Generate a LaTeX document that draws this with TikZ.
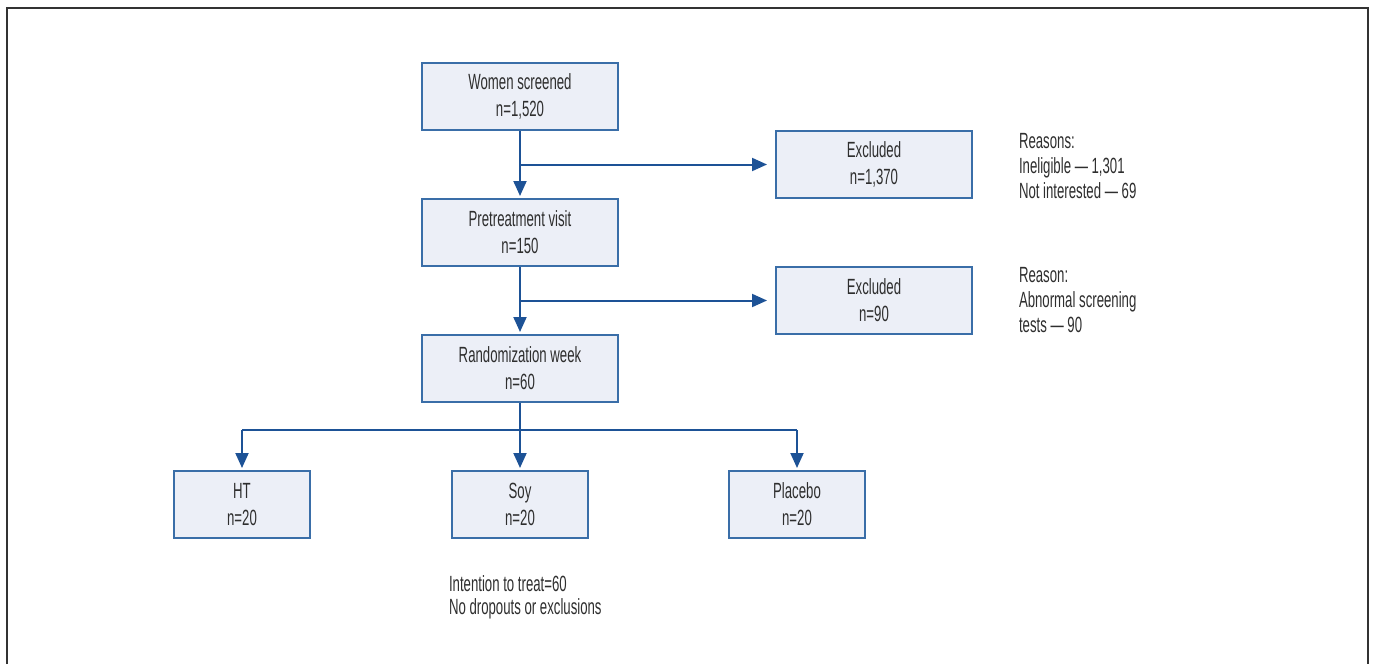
\documentclass[tikz,border=0pt]{standalone}
\usepackage{fontspec}
\setmainfont[FakeStretch=0.6]{Liberation Sans}
\usepackage{tikz}
\usetikzlibrary{calc,arrows.meta,positioning}
\definecolor{boxline}{HTML}{3A6EA8}
\definecolor{boxfill}{HTML}{ECEFF7}
\definecolor{flowline}{HTML}{1D5296}
\definecolor{txt}{HTML}{2E2E2E}
\tikzset{
    every node/.style={font=\fontsize{11}{13.5}\selectfont, text=txt},
    main node/.style={draw=boxline, fill=boxfill, line width=1pt, align=center,
      minimum width=98pt, minimum height=33.5pt, inner sep=0pt},
    arm node/.style={main node, minimum width=68pt},
    note node/.style={align=left, inner sep=0pt,
      font=\fontsize{11}{12.5}\selectfont}
}
\begin{document}
\begin{tikzpicture}[x=0.5pt, y=-0.5pt, line width=1pt,
  flow/.style={draw=flowline, -{Triangle[length=7.5pt,width=6.5pt]}, shorten >=1pt},
  side/.style={flow, shorten >=4pt}]
  \useasboundingbox (0,0) rectangle (1375,664);
  \draw[line width=1.2pt, draw=black!80] (7,664) -- (7,8) -- (1368,8) -- (1368,664);

  % main column
  \node[main node] (women) at (520,96.5) {Women screened\\n=1,520};
  \node[main node, below=33.5pt of women] (pretreat) {Pretreatment visit\\n=150};
  \node[main node, below=33.5pt of pretreat] (random) {Randomization week\\n=60};

  \coordinate (split1) at ($(women.south)!.5!(pretreat.north)$);
  \coordinate (split2) at ($(pretreat.south)!.5!(random.north)$);

  \node[main node, right=127.5pt of split1] (excl1) {Excluded\\n=1,370};
  \node[main node, right=127.5pt of split2] (excl2) {Excluded\\n=90};

  \node[note node, anchor=north west] (why1) at ($(excl1.north east)+(22.5pt,-1pt)$)
    {Reasons:\\Ineligible --- 1,301\\Not interested --- 69};
  \node[note node, anchor=north west] (why2) at ($(excl2.north east)+(22.5pt,0pt)$)
    {Reason:\\Abnormal screening\\tests --- 90};

  \draw[flow] (women) -- (pretreat);
  \draw[side] (split1) -- (excl1);
  \draw[flow] (pretreat) -- (random);
  \draw[side] (split2) -- (excl2);

  % treatment arms
  \node[arm node, below=33.5pt of random] (soy) {Soy\\n=20};
  \node[arm node, left=70pt of soy] (ht) {HT\\n=20};
  \node[arm node, right=69.5pt of soy] (placebo) {Placebo\\n=20};

  \coordinate (fork) at ($(random.south)+(0pt,-13.5pt)$);
  \draw[draw=flowline] (random.south) -- (fork);
  \draw[draw=flowline] (fork -| ht.north) -- (fork -| placebo.north);
  \foreach \arm in {ht,soy,placebo}
    \draw[flow] (fork -| \arm.north) -- (\arm.north);

  \node[note node, font=\fontsize{11}{11.5}\selectfont,
    below right=18pt and -1.5pt of soy.south west] (itt)
    {Intention to treat=60\\No dropouts or exclusions};
\end{tikzpicture}
\end{document}
